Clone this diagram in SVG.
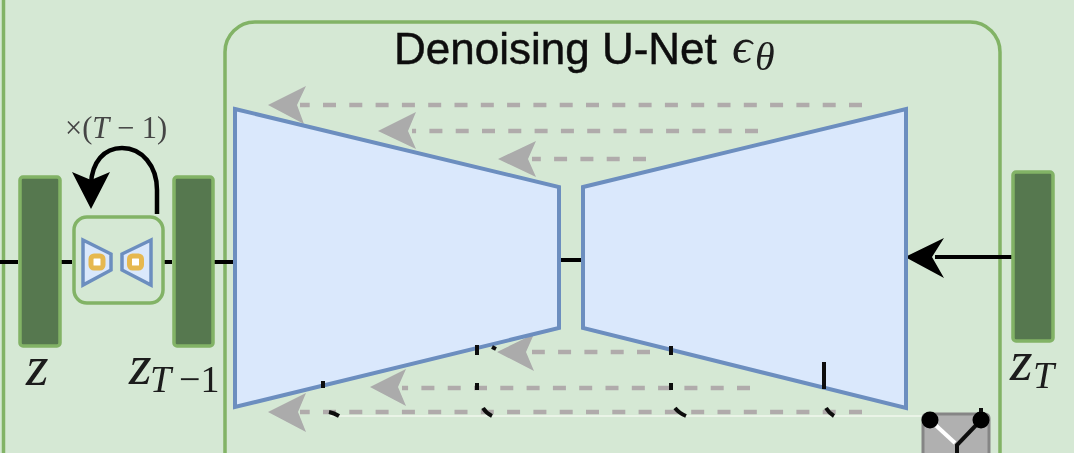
<svg xmlns="http://www.w3.org/2000/svg" width="1074" height="453" viewBox="0 0 1074 453">
<defs><filter id="soft" x="-2%" y="-2%" width="104%" height="104%"><feGaussianBlur stdDeviation="0.55"/></filter></defs>
<style>
.panel{fill:none;stroke:#82b366;stroke-width:3.5}
.latent{fill:#56784f;stroke:#82b366;stroke-width:3.5}
.trap{fill:#dae8fc;stroke:#6c8ebf;stroke-width:4;stroke-linejoin:miter}
.skip{stroke:#b0abab;stroke-width:4.500;stroke-dasharray:13 13.3;fill:none}
.head{fill:#ababab}
.wire{stroke:#000;stroke-width:4;fill:none}
.stub{stroke:#111;stroke-width:4;fill:none}
.sq{fill:#fff;stroke:#e6b84f;stroke-width:5}
.math{font-family:"Liberation Serif","DejaVu Serif",serif;font-style:italic;fill:#1a1a1a}
.up{font-family:"Liberation Serif","DejaVu Serif",serif;fill:#1a1a1a}
.title{font-family:"Liberation Sans",Arial,sans-serif;fill:#111;stroke:#111;stroke-width:0.5}
</style>
<rect width="1074" height="453" fill="#d5e8d4"/>
<g filter="url(#soft)">
<line x1="3.500" y1="0" x2="3.500" y2="453" class="panel"/>
<line x1="330" y1="416" x2="922" y2="416" stroke="#f2f8ee" stroke-width="1.500"/>

<g id="unet">
<rect x="225" y="22" width="775" height="460" rx="30" class="panel"/>
<text class="title" x="394" y="64" font-size="44">Denoising U-Net</text>
<text class="math" x="732" y="63" font-size="50">ϵ</text>
<text class="math" x="755" y="70" font-size="40">θ</text>
</g>

<g id="connectors">
<path class="wire" d="M0 262H18M61 262H72M164 262H172M214 262H235M560 260H583"/>
<path class="wire" d="M1012 257H935" />
<path d="M905 257L944 238L932 257L944 278Z" fill="#000"/>
<path d="M157 214V190C157 166 142 148 122 148C104 148 92 162 91 184" fill="none" stroke="#000" stroke-width="4.500"/>
<path d="M91 209L72 172L91 180L110 172Z" fill="#000"/>
<g class="skip">
<line x1="862" y1="105" x2="300" y2="105"/>
<line x1="758" y1="131" x2="412" y2="131"/>
<line x1="646" y1="159" x2="532" y2="159"/>
<line x1="650" y1="352" x2="532" y2="352"/>
<line x1="750" y1="388" x2="402" y2="388"/>
<line x1="862" y1="412" x2="300" y2="412"/>
</g>
<path class="head" d="M268 105L306 86L297 105L304 124Z"/>
<path class="head" d="M378 131L416 112L408 131L416 149Z"/>
<path class="head" d="M498 159L536 141L528 159L536 177Z"/>
<path class="head" d="M497 352L534 334L526 352L534 371Z"/>
<path class="head" d="M370 387L406 369L398 387L406 406Z"/>
<path class="head" d="M268 412L306 393L298 412L306 432Z"/>
</g>
<g id="encoder"><path class="trap" d="M235 109L559 187V328L235 407Z"/></g>
<g id="decoder"><path class="trap" d="M583 187L906 109V408L583 328Z"/></g>
<g id="stubs"><path class="stub" d="M323 381V388M477 345V355M477 383V390M671 346V355M671 383V390M824 362V389M329 412Q334 413 339 416M483 408Q486 413 492 416M675 408Q679 413 686 416M826 408Q829 413 834 416M492 347L496 349"/></g>

<g id="z"><rect x="20" y="177" width="40" height="169" rx="3" class="latent"/>
<text class="math" x="26" y="385" font-size="58">z</text></g>
<g id="z_t1"><rect x="174" y="177" width="39" height="169" rx="3" class="latent"/>
<text class="math" x="129" y="384" font-size="58">z</text>
<text class="math" x="150" y="392" font-size="38">T</text>
<text class="up" x="179" y="392" font-size="38">−1</text></g>
<g id="z_T"><rect x="1013" y="172" width="40" height="169" rx="3" class="latent"/>
<text class="math" x="1010" y="380" font-size="58">z</text>
<text class="math" x="1033" y="388" font-size="38">T</text></g>

<g id="sampler">
<rect x="74" y="217" width="89" height="86" rx="13" fill="#d5e8d4" stroke="#82b366" stroke-width="3.500"/>
<path class="trap" style="stroke-width:3.500" d="M83 240L111 254V270L83 285Z"/>
<path class="trap" style="stroke-width:3.500" d="M151 240L122 254V270L151 285Z"/>
<rect x="91" y="256" width="12" height="12" rx="3" class="sq"/>
<rect x="129.500" y="256" width="12" height="12" rx="3" class="sq"/>
<text class="up" x="65" y="138" font-size="30.500" style="fill:#444">×(<tspan font-style="italic">T</tspan> − 1)</text>
</g>

<g id="switch">
<rect x="923" y="414" width="66" height="45" rx="4" fill="#b0b0b0" stroke="#858585" stroke-width="3"/>
<line x1="930" y1="420" x2="955" y2="443" stroke="#fff" stroke-width="4"/>
<path d="M981 420L957 445V453" fill="none" stroke="#111" stroke-width="4"/>
<line x1="981" y1="408" x2="981" y2="415" stroke="#111" stroke-width="4"/>
<circle cx="930" cy="420" r="8.500" fill="#000"/>
<circle cx="981" cy="420" r="8.500" fill="#000"/>
</g>
</g>
</svg>
